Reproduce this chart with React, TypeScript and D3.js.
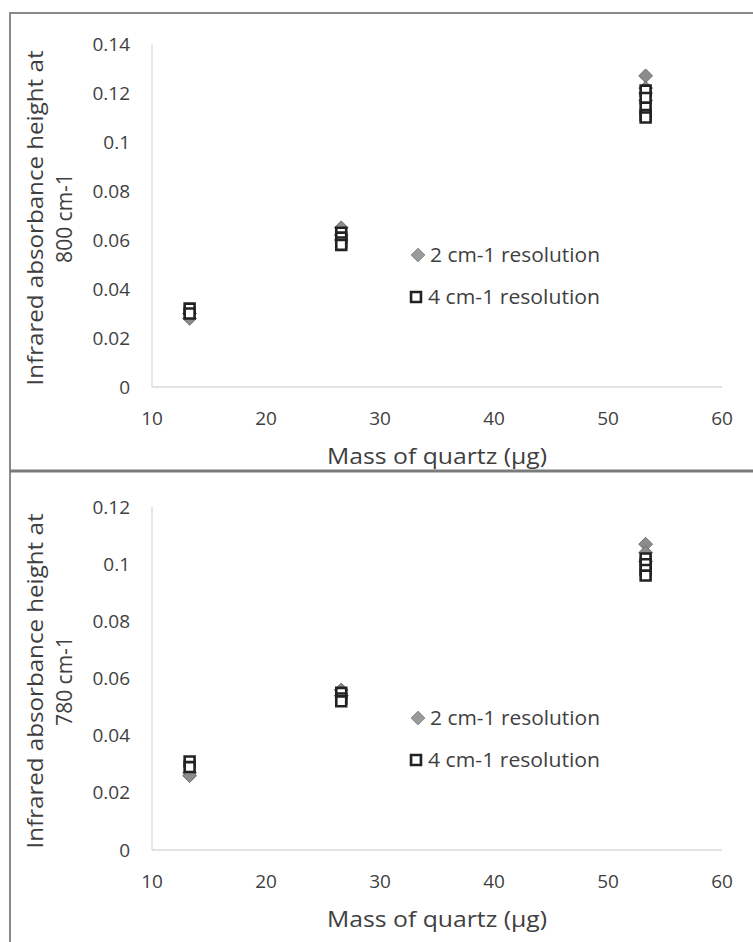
import React from "react"
import * as d3 from "d3"

// quartz mass per filter (µg) and absorbance readings
const massRes2Top = [13.3, 13.3, 26.6, 26.6, 26.6, 53.3, 53.3, 53.3, 53.3]
const abs800Res2 = [0.03, 0.028, 0.065, 0.062, 0.06, 0.127, 0.122, 0.12, 0.117]
const massRes4Top = [13.3, 13.3, 26.6, 26.6, 26.6, 26.6, 53.3, 53.3, 53.3, 53.3, 53.3]
const abs800Res4 = [0.032, 0.03, 0.063, 0.061, 0.059, 0.058, 0.121, 0.118, 0.114, 0.111, 0.11]

const massRes2Bottom = [13.3, 13.3, 26.6, 26.6, 53.3, 53.3, 53.3]
const abs780Res2 = [0.027, 0.026, 0.056, 0.054, 0.107, 0.104, 0.101]
const massRes4Bottom = [13.3, 13.3, 26.6, 26.6, 26.6, 53.3, 53.3, 53.3, 53.3]
const abs780Res4 = [0.031, 0.029, 0.055, 0.053, 0.052, 0.102, 0.1, 0.098, 0.096]

const xTicks = [10, 20, 30, 40, 50, 60]
const yTicksTop = [0, 0.02, 0.04, 0.06, 0.08, 0.1, 0.12, 0.14]
const yTicksBottom = [0, 0.02, 0.04, 0.06, 0.08, 0.1, 0.12]

const seriesNames = ["2 cm-1 resolution", "4 cm-1 resolution"]

const FONT = "'Open Sans', 'Liberation Sans', sans-serif"
const INK = "#3f3f3f"

function Panel({ top, yMax, yTicks, unit, m2, v2, m4, v4 }) {
    // both panels share the same plot box height (343px)
    const x = d3.scaleLinear().domain([10, 60]).range([152, 722])
    const y = d3.scaleLinear().domain([0, yMax]).range([top + 374, top + 31])
    const diamond = d3.symbol().type(d3.symbolDiamond2).size(120)()
    const square = d3.symbol().type(d3.symbolSquare2).size(125)()
    const legX = 418
    const legY = top + 242
    return (
        <g>
            <line x1={152} x2={152} y1={y(yMax)} y2={y(0)} stroke="#d9d9d9" strokeWidth={1.3} />
            <line x1={152} x2={722} y1={y(0)} y2={y(0)} stroke="#d9d9d9" strokeWidth={1.3} />
            {yTicks.map((t) => (
                <text key={t} x={130} y={y(t)} dy="0.35em" textAnchor="end" fontSize={19} fill={INK}>
                    {d3.format("~g")(t)}
                </text>
            ))}
            {xTicks.map((t) => (
                <text key={t} x={x(t)} y={y(0) + 31} dy="0.35em" textAnchor="middle" fontSize={19} fill={INK}>
                    {t}
                </text>
            ))}
            <text x={437} y={y(0) + 70} dy="0.35em" textAnchor="middle" fontSize={21} fill={INK}
                textLength={220} lengthAdjust="spacingAndGlyphs">
                Mass of quartz (μg)
            </text>
            <g transform={`translate(36, ${top + 205}) rotate(-90)`}>
                <text x={0} y={0} dy="0.35em" textAnchor="middle" fontSize={21} fill={INK}
                    textLength={335} lengthAdjust="spacingAndGlyphs">
                    Infrared absorbance height at
                </text>
                <text x={0} y={29} dy="0.35em" textAnchor="middle" fontSize={21} fill={INK}>
                    {unit}
                </text>
            </g>
            {m2.map((m, i) => (
                <path key={"d" + i} d={diamond} transform={`translate(${x(m)},${y(v2[i])})`} fill="#8c8c8c" stroke="#6a6a6a" strokeWidth={1} />
            ))}
            {m4.map((m, i) => (
                <path key={"s" + i} d={square} transform={`translate(${x(m)},${y(v4[i])})`} fill="#ffffff" stroke="#222" strokeWidth={2.6} />
            ))}
            <path d={diamond} transform={`translate(${legX},${legY})`} fill="#9a9a9a" stroke="#8a8a8a" strokeWidth={1} />
            <text x={legX + 12} y={legY} dy="0.35em" fontSize={20} fill={INK}
                textLength={170} lengthAdjust="spacingAndGlyphs">
                {seriesNames[0]}
            </text>
            <path d={square} transform={`translate(${legX - 2},${legY + 42})`} fill="#fff" stroke="#222" strokeWidth={2.6} />
            <text x={legX + 10} y={legY + 42} dy="0.35em" fontSize={20} fill={INK}
                textLength={172} lengthAdjust="spacingAndGlyphs">
                {seriesNames[1]}
            </text>
        </g>
    )
}

export default function App() {
    return (
        <svg
            width={753}
            height={942}
            style={{ position: "absolute", left: 0, top: 0, background: "#fff" }}
            fontFamily={FONT}
        >
            <rect x={0} y={0} width={753} height={942} fill="#fff" />
            <Panel top={13} yMax={0.14} yTicks={yTicksTop} unit="800 cm-1" m2={massRes2Top} v2={abs800Res2} m4={massRes4Top} v4={abs800Res4} />
            <Panel top={476} yMax={0.12} yTicks={yTicksBottom} unit="780 cm-1" m2={massRes2Bottom} v2={abs780Res2} m4={massRes4Bottom} v4={abs780Res4} />
            <path d="M10,950 V13 H760" fill="none" stroke="#8a8a8a" strokeWidth={2} />
            <line x1={10} x2={760} y1={471} y2={471} stroke="#7a7a7a" strokeWidth={3} />
        </svg>
    )
}
